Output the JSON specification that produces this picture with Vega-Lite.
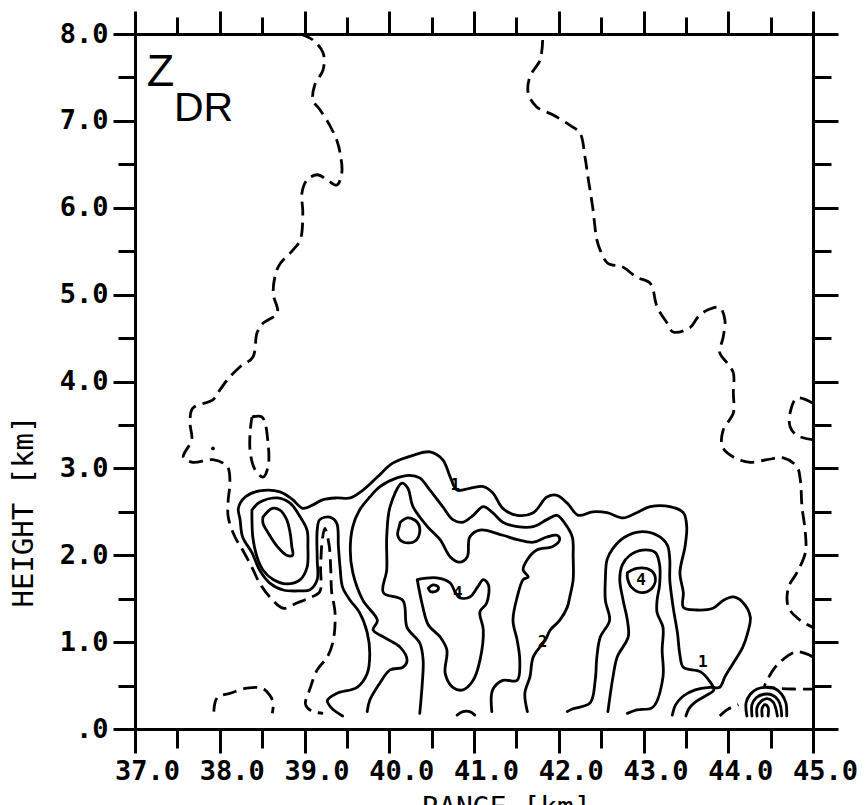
{
  "$schema": "https://vega.github.io/schema/vega-lite/v6.json",
  "width": 678,
  "height": 695,
  "autosize": {"type": "none"},
  "padding": {"left": 135, "top": 34, "right": 53, "bottom": 76},
  "background": "white",
  "config": {
    "view": {"stroke": null},
    "axis": {
      "domainColor": "black", "domainWidth": 3, "tickColor": "black", "tickWidth": 3,
      "grid": false, "labelColor": "black", "titleColor": "black",
      "labelFont": "DejaVu Sans Mono", "titleFont": "DejaVu Sans Mono"
    }
  },
  "datasets": {
    "dashed": [
      {"c":"D1","i":1,"x":38.95,"y":8.00},{"c":"D1","i":2,"x":39.10,"y":7.93},{"c":"D1","i":3,"x":39.22,"y":7.78},{"c":"D1","i":4,"x":39.22,"y":7.59},{"c":"D1","i":5,"x":39.12,"y":7.41},{"c":"D1","i":6,"x":39.10,"y":7.24},{"c":"D1","i":7,"x":39.18,"y":7.13},{"c":"D1","i":8,"x":39.28,"y":6.98},{"c":"D1","i":9,"x":39.38,"y":6.78},{"c":"D1","i":10,"x":39.42,"y":6.63},
      {"c":"D1","i":11,"x":39.44,"y":6.40},{"c":"D1","i":12,"x":39.38,"y":6.26},{"c":"D1","i":13,"x":39.27,"y":6.32},{"c":"D1","i":14,"x":39.15,"y":6.38},{"c":"D1","i":15,"x":39.03,"y":6.32},{"c":"D1","i":16,"x":38.97,"y":6.17},{"c":"D1","i":17,"x":38.98,"y":5.94},{"c":"D1","i":18,"x":38.95,"y":5.63},{"c":"D1","i":19,"x":38.86,"y":5.51},{"c":"D1","i":20,"x":38.69,"y":5.32},
      {"c":"D1","i":21,"x":38.63,"y":5.02},{"c":"D1","i":22,"x":38.68,"y":4.79},{"c":"D1","i":23,"x":38.51,"y":4.67},{"c":"D1","i":24,"x":38.44,"y":4.56},{"c":"D1","i":25,"x":38.39,"y":4.28},{"c":"D1","i":26,"x":38.24,"y":4.17},{"c":"D1","i":27,"x":38.09,"y":4.02},{"c":"D1","i":28,"x":38.00,"y":3.90},{"c":"D1","i":29,"x":37.92,"y":3.79},{"c":"D1","i":30,"x":37.68,"y":3.69},
      {"c":"D1","i":31,"x":37.65,"y":3.52},{"c":"D1","i":32,"x":37.67,"y":3.33},{"c":"D1","i":33,"x":37.57,"y":3.13},{"c":"D1","i":34,"x":37.68,"y":3.07},{"c":"D1","i":35,"x":37.92,"y":3.10},{"c":"D1","i":36,"x":38.09,"y":3.02},{"c":"D1","i":37,"x":38.12,"y":2.83},{"c":"D1","i":38,"x":38.10,"y":2.64},{"c":"D1","i":39,"x":38.10,"y":2.44},{"c":"D1","i":40,"x":38.18,"y":2.21},
      {"c":"D1","i":41,"x":38.27,"y":2.06},{"c":"D1","i":42,"x":38.38,"y":1.86},{"c":"D1","i":43,"x":38.47,"y":1.68},{"c":"D1","i":44,"x":38.59,"y":1.52},{"c":"D1","i":45,"x":38.75,"y":1.39},{"c":"D1","i":46,"x":38.91,"y":1.45},{"c":"D1","i":47,"x":39.06,"y":1.51},{"c":"D1","i":48,"x":39.18,"y":1.58},{"c":"D1","i":49,"x":39.19,"y":1.86},{"c":"D1","i":50,"x":39.21,"y":2.18},
      {"c":"D1","i":51,"x":39.24,"y":2.31},{"c":"D1","i":52,"x":39.29,"y":2.12},{"c":"D1","i":53,"x":39.31,"y":1.83},{"c":"D1","i":54,"x":39.32,"y":1.58},{"c":"D1","i":55,"x":39.36,"y":1.34},{"c":"D1","i":56,"x":39.34,"y":1.02},{"c":"D1","i":57,"x":39.27,"y":0.83},{"c":"D1","i":58,"x":39.15,"y":0.68},{"c":"D1","i":59,"x":39.06,"y":0.45},{"c":"D1","i":60,"x":39.01,"y":0.30},
      {"c":"D1","i":61,"x":39.03,"y":0.25},{"c":"D1","i":62,"x":39.10,"y":0.20},{"c":"D1","i":63,"x":39.22,"y":0.18},
      {"c":"D2","i":1,"x":38.38,"y":3.59},{"c":"D2","i":2,"x":38.50,"y":3.59},{"c":"D2","i":3,"x":38.57,"y":3.29},{"c":"D2","i":4,"x":38.57,"y":3.02},{"c":"D2","i":5,"x":38.51,"y":2.90},{"c":"D2","i":6,"x":38.42,"y":2.98},{"c":"D2","i":7,"x":38.36,"y":3.18},{"c":"D2","i":8,"x":38.36,"y":3.44},{"c":"D2","i":9,"x":38.38,"y":3.59},
      {"c":"D3","i":1,"x":37.93,"y":0.20},{"c":"D3","i":2,"x":37.97,"y":0.36},{"c":"D3","i":3,"x":38.12,"y":0.41},{"c":"D3","i":4,"x":38.32,"y":0.47},{"c":"D3","i":5,"x":38.50,"y":0.47},{"c":"D3","i":6,"x":38.59,"y":0.39},{"c":"D3","i":7,"x":38.63,"y":0.30},{"c":"D3","i":8,"x":38.62,"y":0.18},
      {"c":"D4","i":1,"x":41.81,"y":7.93},{"c":"D4","i":2,"x":41.78,"y":7.70},{"c":"D4","i":3,"x":41.66,"y":7.51},{"c":"D4","i":4,"x":41.64,"y":7.32},{"c":"D4","i":5,"x":41.74,"y":7.16},{"c":"D4","i":6,"x":41.93,"y":7.07},{"c":"D4","i":7,"x":42.13,"y":6.95},{"c":"D4","i":8,"x":42.25,"y":6.86},{"c":"D4","i":9,"x":42.31,"y":6.58},{"c":"D4","i":10,"x":42.35,"y":6.32},
      {"c":"D4","i":11,"x":42.40,"y":6.01},{"c":"D4","i":12,"x":42.45,"y":5.63},{"c":"D4","i":13,"x":42.49,"y":5.51},{"c":"D4","i":14,"x":42.58,"y":5.36},{"c":"D4","i":15,"x":42.75,"y":5.32},{"c":"D4","i":16,"x":42.92,"y":5.20},{"c":"D4","i":17,"x":43.08,"y":5.13},{"c":"D4","i":18,"x":43.16,"y":4.86},{"c":"D4","i":19,"x":43.28,"y":4.67},{"c":"D4","i":20,"x":43.35,"y":4.57},
      {"c":"D4","i":21,"x":43.55,"y":4.62},{"c":"D4","i":22,"x":43.64,"y":4.74},{"c":"D4","i":23,"x":43.75,"y":4.82},{"c":"D4","i":24,"x":43.90,"y":4.85},{"c":"D4","i":25,"x":43.96,"y":4.71},{"c":"D4","i":26,"x":43.94,"y":4.51},{"c":"D4","i":27,"x":43.90,"y":4.33},{"c":"D4","i":28,"x":43.99,"y":4.21},{"c":"D4","i":29,"x":44.06,"y":4.10},{"c":"D4","i":30,"x":44.06,"y":3.87},
      {"c":"D4","i":31,"x":44.06,"y":3.64},{"c":"D4","i":32,"x":43.94,"y":3.44},{"c":"D4","i":33,"x":43.93,"y":3.25},{"c":"D4","i":34,"x":44.06,"y":3.13},{"c":"D4","i":35,"x":44.26,"y":3.07},{"c":"D4","i":36,"x":44.46,"y":3.10},{"c":"D4","i":37,"x":44.65,"y":3.12},{"c":"D4","i":38,"x":44.81,"y":3.02},{"c":"D4","i":39,"x":44.85,"y":2.87},{"c":"D4","i":40,"x":44.87,"y":2.56},
      {"c":"D4","i":41,"x":44.91,"y":2.26},{"c":"D4","i":42,"x":44.91,"y":2.03},{"c":"D4","i":43,"x":44.81,"y":1.80},{"c":"D4","i":44,"x":44.71,"y":1.63},{"c":"D4","i":45,"x":44.71,"y":1.40},{"c":"D4","i":46,"x":44.85,"y":1.25},{"c":"D4","i":47,"x":45.00,"y":1.17},
      {"c":"D5","i":1,"x":45.00,"y":3.75},{"c":"D5","i":2,"x":44.81,"y":3.81},{"c":"D5","i":3,"x":44.73,"y":3.64},{"c":"D5","i":4,"x":44.73,"y":3.48},{"c":"D5","i":5,"x":44.81,"y":3.38},{"c":"D5","i":6,"x":44.99,"y":3.33},
      {"c":"D6","i":1,"x":45.00,"y":0.83},{"c":"D6","i":2,"x":44.81,"y":0.89},{"c":"D6","i":3,"x":44.61,"y":0.77},{"c":"D6","i":4,"x":44.53,"y":0.68},{"c":"D6","i":5,"x":44.46,"y":0.56},{"c":"D6","i":6,"x":44.43,"y":0.49},{"c":"D6","i":7,"x":44.55,"y":0.47},{"c":"D6","i":8,"x":44.79,"y":0.46},{"c":"D6","i":9,"x":45.00,"y":0.46},
      {"c":"D7","i":1,"x":43.90,"y":0.15},{"c":"D7","i":2,"x":44.00,"y":0.23},{"c":"D7","i":3,"x":44.12,"y":0.28}
    ],
    "solid": [
      {"c":"S1","i":1,"x":39.45,"y":0.15},{"c":"S1","i":2,"x":39.32,"y":0.24},{"c":"S1","i":3,"x":39.27,"y":0.33},{"c":"S1","i":4,"x":39.38,"y":0.41},{"c":"S1","i":5,"x":39.62,"y":0.48},{"c":"S1","i":6,"x":39.74,"y":0.64},{"c":"S1","i":7,"x":39.77,"y":0.87},{"c":"S1","i":8,"x":39.74,"y":1.11},{"c":"S1","i":9,"x":39.65,"y":1.34},{"c":"S1","i":10,"x":39.54,"y":1.48},
      {"c":"S1","i":11,"x":39.45,"y":1.63},{"c":"S1","i":12,"x":39.42,"y":1.86},{"c":"S1","i":13,"x":39.40,"y":2.10},{"c":"S1","i":14,"x":39.38,"y":2.37},{"c":"S1","i":15,"x":39.30,"y":2.44},{"c":"S1","i":16,"x":39.18,"y":2.41},{"c":"S1","i":17,"x":39.15,"y":2.29},{"c":"S1","i":18,"x":39.15,"y":1.95},{"c":"S1","i":19,"x":39.15,"y":1.72},{"c":"S1","i":20,"x":39.06,"y":1.60},
      {"c":"S1","i":21,"x":38.95,"y":1.59},{"c":"S1","i":22,"x":38.75,"y":1.60},{"c":"S1","i":23,"x":38.59,"y":1.68},{"c":"S1","i":24,"x":38.47,"y":1.83},{"c":"S1","i":25,"x":38.38,"y":2.03},{"c":"S1","i":26,"x":38.27,"y":2.21},{"c":"S1","i":27,"x":38.24,"y":2.41},{"c":"S1","i":28,"x":38.22,"y":2.54},{"c":"S1","i":29,"x":38.30,"y":2.67},{"c":"S1","i":30,"x":38.47,"y":2.74},
      {"c":"S1","i":31,"x":38.71,"y":2.73},{"c":"S1","i":32,"x":38.86,"y":2.64},{"c":"S1","i":33,"x":38.98,"y":2.54},{"c":"S1","i":34,"x":39.10,"y":2.58},{"c":"S1","i":35,"x":39.22,"y":2.64},{"c":"S1","i":36,"x":39.38,"y":2.66},{"c":"S1","i":37,"x":39.54,"y":2.66},{"c":"S1","i":38,"x":39.69,"y":2.75},{"c":"S1","i":39,"x":39.86,"y":2.90},{"c":"S1","i":40,"x":40.04,"y":3.06},
      {"c":"S1","i":41,"x":40.28,"y":3.15},{"c":"S1","i":42,"x":40.48,"y":3.19},{"c":"S1","i":43,"x":40.63,"y":3.10},{"c":"S1","i":44,"x":40.72,"y":2.90},{"c":"S1","i":45,"x":40.80,"y":2.75},{"c":"S1","i":46,"x":40.95,"y":2.77},{"c":"S1","i":47,"x":41.11,"y":2.79},{"c":"S1","i":48,"x":41.22,"y":2.72},{"c":"S1","i":49,"x":41.34,"y":2.54},{"c":"S1","i":50,"x":41.51,"y":2.46},
      {"c":"S1","i":51,"x":41.70,"y":2.49},{"c":"S1","i":52,"x":41.86,"y":2.67},{"c":"S1","i":53,"x":41.98,"y":2.69},{"c":"S1","i":54,"x":42.10,"y":2.60},{"c":"S1","i":55,"x":42.23,"y":2.46},{"c":"S1","i":56,"x":42.40,"y":2.50},{"c":"S1","i":57,"x":42.57,"y":2.49},{"c":"S1","i":58,"x":42.76,"y":2.43},{"c":"S1","i":59,"x":42.92,"y":2.49},{"c":"S1","i":60,"x":43.08,"y":2.56},
      {"c":"S1","i":61,"x":43.31,"y":2.56},{"c":"S1","i":62,"x":43.47,"y":2.49},{"c":"S1","i":63,"x":43.51,"y":2.33},{"c":"S1","i":64,"x":43.49,"y":2.10},{"c":"S1","i":65,"x":43.43,"y":1.80},{"c":"S1","i":66,"x":43.47,"y":1.57},{"c":"S1","i":67,"x":43.47,"y":1.40},{"c":"S1","i":68,"x":43.63,"y":1.37},{"c":"S1","i":69,"x":43.82,"y":1.39},{"c":"S1","i":70,"x":43.94,"y":1.48},
      {"c":"S1","i":71,"x":44.06,"y":1.52},{"c":"S1","i":72,"x":44.17,"y":1.46},{"c":"S1","i":73,"x":44.26,"y":1.29},{"c":"S1","i":74,"x":44.23,"y":1.11},{"c":"S1","i":75,"x":44.17,"y":0.94},{"c":"S1","i":76,"x":44.06,"y":0.76},{"c":"S1","i":77,"x":43.96,"y":0.60},{"c":"S1","i":78,"x":43.90,"y":0.48},{"c":"S1","i":79,"x":43.78,"y":0.48},{"c":"S1","i":80,"x":43.61,"y":0.45},
      {"c":"S1","i":81,"x":43.47,"y":0.38},{"c":"S1","i":82,"x":43.38,"y":0.28},{"c":"S1","i":83,"x":43.34,"y":0.16},
      {"c":"B2","i":1,"x":38.38,"y":2.52},{"c":"B2","i":2,"x":38.47,"y":2.61},{"c":"B2","i":3,"x":38.68,"y":2.66},{"c":"B2","i":4,"x":38.83,"y":2.60},{"c":"B2","i":5,"x":38.95,"y":2.44},{"c":"B2","i":6,"x":39.03,"y":2.29},{"c":"B2","i":7,"x":39.04,"y":2.10},{"c":"B2","i":8,"x":39.03,"y":1.86},{"c":"B2","i":9,"x":38.95,"y":1.72},{"c":"B2","i":10,"x":38.79,"y":1.67},
      {"c":"B2","i":11,"x":38.63,"y":1.72},{"c":"B2","i":12,"x":38.51,"y":1.83},{"c":"B2","i":13,"x":38.44,"y":1.98},{"c":"B2","i":14,"x":38.39,"y":2.21},{"c":"B2","i":15,"x":38.38,"y":2.41},{"c":"B2","i":16,"x":38.38,"y":2.52},
      {"c":"B3","i":1,"x":38.51,"y":2.44},{"c":"B3","i":2,"x":38.62,"y":2.54},{"c":"B3","i":3,"x":38.71,"y":2.52},{"c":"B3","i":4,"x":38.79,"y":2.41},{"c":"B3","i":5,"x":38.83,"y":2.26},{"c":"B3","i":6,"x":38.85,"y":2.10},{"c":"B3","i":7,"x":38.86,"y":2.00},{"c":"B3","i":8,"x":38.79,"y":2.00},{"c":"B3","i":9,"x":38.68,"y":2.10},{"c":"B3","i":10,"x":38.57,"y":2.26},{"c":"B3","i":11,"x":38.51,"y":2.37},{"c":"B3","i":12,"x":38.51,"y":2.44},
      {"c":"S2","i":1,"x":39.74,"y":0.20},{"c":"S2","i":2,"x":39.77,"y":0.33},{"c":"S2","i":3,"x":39.89,"y":0.53},{"c":"S2","i":4,"x":40.01,"y":0.68},{"c":"S2","i":5,"x":40.16,"y":0.71},{"c":"S2","i":6,"x":40.21,"y":0.79},{"c":"S2","i":7,"x":40.13,"y":0.94},{"c":"S2","i":8,"x":39.93,"y":1.06},{"c":"S2","i":9,"x":39.81,"y":1.14},{"c":"S2","i":10,"x":39.86,"y":1.25},
      {"c":"S2","i":11,"x":39.69,"y":1.48},{"c":"S2","i":12,"x":39.57,"y":1.80},{"c":"S2","i":13,"x":39.54,"y":2.06},{"c":"S2","i":14,"x":39.57,"y":2.33},{"c":"S2","i":15,"x":39.65,"y":2.52},{"c":"S2","i":16,"x":39.77,"y":2.67},{"c":"S2","i":17,"x":39.89,"y":2.79},{"c":"S2","i":18,"x":40.09,"y":2.89},{"c":"S2","i":19,"x":40.24,"y":2.92},{"c":"S2","i":20,"x":40.36,"y":2.89},
      {"c":"S2","i":21,"x":40.48,"y":2.75},{"c":"S2","i":22,"x":40.63,"y":2.56},{"c":"S2","i":23,"x":40.75,"y":2.41},{"c":"S2","i":24,"x":40.87,"y":2.38},{"c":"S2","i":25,"x":40.99,"y":2.46},{"c":"S2","i":26,"x":41.11,"y":2.56},{"c":"S2","i":27,"x":41.22,"y":2.49},{"c":"S2","i":28,"x":41.34,"y":2.38},{"c":"S2","i":29,"x":41.51,"y":2.33},{"c":"S2","i":30,"x":41.70,"y":2.33},
      {"c":"S2","i":31,"x":41.86,"y":2.41},{"c":"S2","i":32,"x":41.98,"y":2.46},{"c":"S2","i":33,"x":42.07,"y":2.37},{"c":"S2","i":34,"x":42.16,"y":2.21},{"c":"S2","i":35,"x":42.17,"y":1.98},{"c":"S2","i":36,"x":42.17,"y":1.72},{"c":"S2","i":37,"x":42.13,"y":1.52},{"c":"S2","i":38,"x":42.10,"y":1.40},{"c":"S2","i":39,"x":42.01,"y":1.25},{"c":"S2","i":40,"x":41.90,"y":1.14},
      {"c":"S2","i":41,"x":41.84,"y":1.02},{"c":"S2","i":42,"x":41.70,"y":0.83},{"c":"S2","i":43,"x":41.66,"y":0.60},{"c":"S2","i":44,"x":41.60,"y":0.41},{"c":"S2","i":45,"x":41.63,"y":0.20},
      {"c":"S3","i":1,"x":40.36,"y":0.18},{"c":"S3","i":2,"x":40.39,"y":0.53},{"c":"S3","i":3,"x":40.40,"y":0.79},{"c":"S3","i":4,"x":40.36,"y":0.99},{"c":"S3","i":5,"x":40.21,"y":1.17},{"c":"S3","i":6,"x":40.16,"y":1.48},{"c":"S3","i":7,"x":39.93,"y":1.57},{"c":"S3","i":8,"x":39.97,"y":1.83},{"c":"S3","i":9,"x":39.97,"y":2.21},{"c":"S3","i":10,"x":40.01,"y":2.56},
      {"c":"S3","i":11,"x":40.15,"y":2.83},{"c":"S3","i":12,"x":40.22,"y":2.77},{"c":"S3","i":13,"x":40.28,"y":2.56},{"c":"S3","i":14,"x":40.45,"y":2.33},{"c":"S3","i":15,"x":40.60,"y":2.18},{"c":"S3","i":16,"x":40.72,"y":1.98},{"c":"S3","i":17,"x":40.83,"y":1.92},{"c":"S3","i":18,"x":40.92,"y":1.98},{"c":"S3","i":19,"x":40.95,"y":2.21},{"c":"S3","i":20,"x":41.07,"y":2.29},
      {"c":"S3","i":21,"x":41.34,"y":2.23},{"c":"S3","i":22,"x":41.51,"y":2.18},{"c":"S3","i":23,"x":41.70,"y":2.15},{"c":"S3","i":24,"x":41.86,"y":2.21},{"c":"S3","i":25,"x":41.98,"y":2.23},{"c":"S3","i":26,"x":42.01,"y":2.18},{"c":"S3","i":27,"x":41.93,"y":2.10},{"c":"S3","i":28,"x":41.74,"y":2.06},{"c":"S3","i":29,"x":41.63,"y":1.95},{"c":"S3","i":30,"x":41.58,"y":1.83},
      {"c":"S3","i":31,"x":41.64,"y":1.75},{"c":"S3","i":32,"x":41.58,"y":1.72},{"c":"S3","i":33,"x":41.51,"y":1.52},{"c":"S3","i":34,"x":41.46,"y":1.25},{"c":"S3","i":35,"x":41.51,"y":1.02},{"c":"S3","i":36,"x":41.54,"y":0.79},{"c":"S3","i":37,"x":41.51,"y":0.56},{"c":"S3","i":38,"x":41.34,"y":0.56},{"c":"S3","i":39,"x":41.22,"y":0.45},{"c":"S3","i":40,"x":41.21,"y":0.20},
      {"c":"L1","i":1,"x":40.13,"y":2.38},{"c":"L1","i":2,"x":40.22,"y":2.43},{"c":"L1","i":3,"x":40.33,"y":2.38},{"c":"L1","i":4,"x":40.36,"y":2.27},{"c":"L1","i":5,"x":40.30,"y":2.16},{"c":"L1","i":6,"x":40.17,"y":2.15},{"c":"L1","i":7,"x":40.10,"y":2.23},{"c":"L1","i":8,"x":40.12,"y":2.34},{"c":"L1","i":9,"x":40.13,"y":2.38},
      {"c":"T","i":1,"x":40.33,"y":1.72},{"c":"T","i":2,"x":40.56,"y":1.74},{"c":"T","i":3,"x":40.72,"y":1.68},{"c":"T","i":4,"x":40.78,"y":1.57},{"c":"T","i":5,"x":40.83,"y":1.51},{"c":"T","i":6,"x":40.95,"y":1.52},{"c":"T","i":7,"x":41.04,"y":1.63},{"c":"T","i":8,"x":41.11,"y":1.72},{"c":"T","i":9,"x":41.17,"y":1.66},{"c":"T","i":10,"x":41.15,"y":1.45},
      {"c":"T","i":11,"x":41.07,"y":1.35},{"c":"T","i":12,"x":41.11,"y":1.14},{"c":"T","i":13,"x":41.07,"y":0.79},{"c":"T","i":14,"x":40.99,"y":0.56},{"c":"T","i":15,"x":40.87,"y":0.45},{"c":"T","i":16,"x":40.75,"y":0.48},{"c":"T","i":17,"x":40.66,"y":0.64},{"c":"T","i":18,"x":40.68,"y":0.91},{"c":"T","i":19,"x":40.60,"y":1.06},{"c":"T","i":20,"x":40.46,"y":1.20},
      {"c":"T","i":21,"x":40.39,"y":1.43},{"c":"T","i":22,"x":40.33,"y":1.72},
      {"c":"L2","i":1,"x":40.46,"y":1.62},{"c":"L2","i":2,"x":40.52,"y":1.66},{"c":"L2","i":3,"x":40.58,"y":1.63},{"c":"L2","i":4,"x":40.56,"y":1.59},{"c":"L2","i":5,"x":40.49,"y":1.58},{"c":"L2","i":6,"x":40.46,"y":1.62},
      {"c":"BU","i":1,"x":40.80,"y":0.16},{"c":"BU","i":2,"x":40.87,"y":0.20},{"c":"BU","i":3,"x":40.95,"y":0.20},{"c":"BU","i":4,"x":41.01,"y":0.16},
      {"c":"R1","i":1,"x":42.10,"y":0.20},{"c":"R1","i":2,"x":42.16,"y":0.23},{"c":"R1","i":3,"x":42.37,"y":0.30},{"c":"R1","i":4,"x":42.43,"y":0.56},{"c":"R1","i":5,"x":42.45,"y":0.83},{"c":"R1","i":6,"x":42.49,"y":1.06},{"c":"R1","i":7,"x":42.60,"y":1.25},{"c":"R1","i":8,"x":42.55,"y":1.48},{"c":"R1","i":9,"x":42.55,"y":1.72},{"c":"R1","i":10,"x":42.57,"y":1.95},
      {"c":"R1","i":11,"x":42.64,"y":2.08},{"c":"R1","i":12,"x":42.78,"y":2.21},{"c":"R1","i":13,"x":42.96,"y":2.27},{"c":"R1","i":14,"x":43.16,"y":2.23},{"c":"R1","i":15,"x":43.28,"y":2.12},{"c":"R1","i":16,"x":43.31,"y":1.95},{"c":"R1","i":17,"x":43.31,"y":1.72},{"c":"R1","i":18,"x":43.35,"y":1.40},{"c":"R1","i":19,"x":43.40,"y":1.11},{"c":"R1","i":20,"x":43.43,"y":0.85},
      {"c":"R1","i":21,"x":43.47,"y":0.71},{"c":"R1","i":22,"x":43.67,"y":0.66},{"c":"R1","i":23,"x":43.78,"y":0.55},{"c":"R1","i":24,"x":43.83,"y":0.45},{"c":"R1","i":25,"x":43.73,"y":0.38},{"c":"R1","i":26,"x":43.61,"y":0.31},{"c":"R1","i":27,"x":43.54,"y":0.24},{"c":"R1","i":28,"x":43.50,"y":0.15},
      {"c":"R2","i":1,"x":42.58,"y":0.20},{"c":"R2","i":2,"x":42.64,"y":0.60},{"c":"R2","i":3,"x":42.69,"y":0.83},{"c":"R2","i":4,"x":42.82,"y":1.06},{"c":"R2","i":5,"x":42.81,"y":1.25},{"c":"R2","i":6,"x":42.76,"y":1.48},{"c":"R2","i":7,"x":42.72,"y":1.72},{"c":"R2","i":8,"x":42.75,"y":1.89},{"c":"R2","i":9,"x":42.84,"y":2.00},{"c":"R2","i":10,"x":42.99,"y":2.06},
      {"c":"R2","i":11,"x":43.14,"y":2.03},{"c":"R2","i":12,"x":43.19,"y":1.89},{"c":"R2","i":13,"x":43.19,"y":1.66},{"c":"R2","i":14,"x":43.16,"y":1.48},{"c":"R2","i":15,"x":43.16,"y":1.34},{"c":"R2","i":16,"x":43.23,"y":1.17},{"c":"R2","i":17,"x":43.22,"y":0.91},{"c":"R2","i":18,"x":43.23,"y":0.60},{"c":"R2","i":19,"x":43.11,"y":0.25},{"c":"R2","i":20,"x":42.92,"y":0.22},
      {"c":"R2","i":21,"x":42.81,"y":0.18},
      {"c":"R3","i":1,"x":42.81,"y":1.80},{"c":"R3","i":2,"x":42.92,"y":1.85},{"c":"R3","i":3,"x":43.08,"y":1.83},{"c":"R3","i":4,"x":43.14,"y":1.74},{"c":"R3","i":5,"x":43.10,"y":1.62},{"c":"R3","i":6,"x":42.98,"y":1.57},{"c":"R3","i":7,"x":42.86,"y":1.63},{"c":"R3","i":8,"x":42.81,"y":1.74},{"c":"R3","i":9,"x":42.81,"y":1.80},
      {"c":"Ra","i":1,"x":44.22,"y":0.15},{"c":"Ra","i":2,"x":44.21,"y":0.30},{"c":"Ra","i":3,"x":44.26,"y":0.40},{"c":"Ra","i":4,"x":44.34,"y":0.46},{"c":"Ra","i":5,"x":44.43,"y":0.48},{"c":"Ra","i":6,"x":44.54,"y":0.47},{"c":"Ra","i":7,"x":44.63,"y":0.40},{"c":"Ra","i":8,"x":44.68,"y":0.30},{"c":"Ra","i":9,"x":44.69,"y":0.15},
      {"c":"Rb","i":1,"x":44.28,"y":0.15},{"c":"Rb","i":2,"x":44.28,"y":0.28},{"c":"Rb","i":3,"x":44.33,"y":0.36},{"c":"Rb","i":4,"x":44.42,"y":0.40},{"c":"Rb","i":5,"x":44.52,"y":0.39},{"c":"Rb","i":6,"x":44.59,"y":0.33},{"c":"Rb","i":7,"x":44.62,"y":0.25},{"c":"Rb","i":8,"x":44.63,"y":0.15},
      {"c":"Rc","i":1,"x":44.34,"y":0.15},{"c":"Rc","i":2,"x":44.34,"y":0.25},{"c":"Rc","i":3,"x":44.39,"y":0.32},{"c":"Rc","i":4,"x":44.46,"y":0.35},{"c":"Rc","i":5,"x":44.53,"y":0.31},{"c":"Rc","i":6,"x":44.56,"y":0.24},{"c":"Rc","i":7,"x":44.58,"y":0.15},
      {"c":"Rd","i":1,"x":44.40,"y":0.15},{"c":"Rd","i":2,"x":44.40,"y":0.24},{"c":"Rd","i":3,"x":44.43,"y":0.28},{"c":"Rd","i":4,"x":44.47,"y":0.25},{"c":"Rd","i":5,"x":44.47,"y":0.15}
    ],
    "labels": [
      {"x":40.78,"y":2.81,"t":"1"},{"x":41.81,"y":1.00,"t":"2"},{"x":40.81,"y":1.57,"t":"4"},{"x":42.97,"y":1.72,"t":"4"},{"x":43.70,"y":0.77,"t":"1"}
    ]
  },
  "layer": [
    {
      "data": {"name": "dashed"},
      "mark": {"type": "line", "stroke": "black", "strokeWidth": 2.8, "strokeDash": [14, 7], "interpolate": "catmull-rom"},
      "encoding": {
        "x": {"field": "x", "type": "quantitative", "scale": {"domain": [37, 45], "nice": false, "zero": false},
          "axis": {"orient": "bottom", "values": [37,37.5,38,38.5,39,39.5,40,40.5,41,41.5,42,42.5,43,43.5,44,44.5,45],
            "labelExpr": "datum.value % 1 === 0 ? format(datum.value, '.1f') : ''",
            "tickSize": {"condition": {"test": "datum.value % 1 === 0", "value": 24}, "value": 19},
            "labelFontSize": 27, "labelFontWeight": "bold", "labelPadding": 5, "labelOffset": 12,
            "labelFlush": false, "labelOverlap": false, "labelBound": false,
            "title": "RANGE [km]", "titleFontSize": 28, "titleFontWeight": "normal",
            "titleX": 371, "titleY": 87, "titleAlign": "center", "titleBaseline": "alphabetic"}},
        "y": {"field": "y", "type": "quantitative", "scale": {"domain": [0, 8], "nice": false, "zero": false},
          "axis": {"orient": "left", "values": [0,0.5,1,1.5,2,2.5,3,3.5,4,4.5,5,5.5,6,6.5,7,7.5,8],
            "labelExpr": "datum.value % 1 !== 0 ? '' : (datum.value === 0 ? '.0' : format(datum.value, '.1f'))",
            "tickSize": {"condition": {"test": "datum.value % 1 === 0", "value": 22}, "value": 17},
            "labelFontSize": 27, "labelFontWeight": "bold", "labelPadding": 5,
            "labelFlush": false, "labelOverlap": false, "labelBound": false,
            "title": "HEIGHT [km]", "titleFontSize": 29, "titleFontWeight": "normal",
            "titleX": -112, "titleY": 477, "titleAngle": -90, "titleAlign": "center", "titleBaseline": "middle"}},
        "detail": {"field": "c"},
        "order": {"field": "i", "type": "quantitative"}
      }
    },
    {
      "data": {"name": "solid"},
      "mark": {"type": "line", "stroke": "black", "strokeWidth": 2.8, "interpolate": "catmull-rom", "strokeJoin": "round", "strokeCap": "round"},
      "encoding": {
        "x": {"field": "x", "type": "quantitative", "scale": {"domain": [37, 45], "nice": false, "zero": false},
          "axis": {"orient": "top", "values": [37,37.5,38,38.5,39,39.5,40,40.5,41,41.5,42,42.5,43,43.5,44,44.5,45],
            "labels": false, "title": null,
            "tickSize": {"condition": {"test": "datum.value % 1 === 0", "value": 23}, "value": 17}}},
        "y": {"field": "y", "type": "quantitative", "scale": {"domain": [0, 8], "nice": false, "zero": false},
          "axis": {"orient": "right", "values": [0,0.5,1,1.5,2,2.5,3,3.5,4,4.5,5,5.5,6,6.5,7,7.5,8],
            "labels": false, "title": null,
            "tickSize": {"condition": {"test": "datum.value % 1 === 0", "value": 25}, "value": 18}}},
        "detail": {"field": "c"},
        "order": {"field": "i", "type": "quantitative"}
      }
    },
    {
      "data": {"name": "labels"},
      "mark": {"type": "text", "font": "DejaVu Sans Mono", "fontWeight": "bold", "fontSize": 16, "color": "black"},
      "encoding": {
        "x": {"field": "x", "type": "quantitative", "axis": null},
        "y": {"field": "y", "type": "quantitative", "axis": null},
        "text": {"field": "t"}
      }
    },
    {
      "data": {"values": [{"x": 37.92, "y": 3.23}]},
      "mark": {"type": "point", "filled": true, "color": "black", "size": 14, "opacity": 1},
      "encoding": {
        "x": {"field": "x", "type": "quantitative", "axis": null},
        "y": {"field": "y", "type": "quantitative", "axis": null}
      }
    },
    {
      "data": {"values": [{"x": 37.14, "y": 7.40, "t": "Z"}]},
      "mark": {"type": "text", "font": "Liberation Sans", "fontSize": 45, "align": "left", "baseline": "alphabetic", "color": "black"},
      "encoding": {
        "x": {"field": "x", "type": "quantitative", "axis": null},
        "y": {"field": "y", "type": "quantitative", "axis": null},
        "text": {"field": "t"}
      }
    },
    {
      "data": {"values": [{"x": 37.46, "y": 7.0, "t": "DR"}]},
      "mark": {"type": "text", "font": "Liberation Sans", "fontSize": 41, "align": "left", "baseline": "alphabetic", "color": "black"},
      "encoding": {
        "x": {"field": "x", "type": "quantitative", "axis": null},
        "y": {"field": "y", "type": "quantitative", "axis": null},
        "text": {"field": "t"}
      }
    }
  ],
  "resolve": {"axis": {"x": "independent", "y": "independent"}}
}
